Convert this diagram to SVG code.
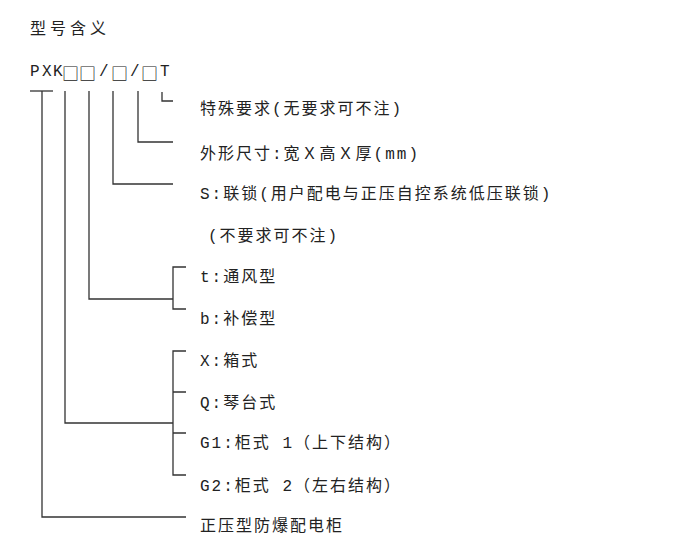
<svg xmlns="http://www.w3.org/2000/svg" width="700" height="560" viewBox="0 0 700 560">
<style>
text{font-family:"Liberation Mono","Noto Sans CJK SC",monospace;font-size:16px;fill:#222;dominant-baseline:central;letter-spacing:2px}
.sq{font-family:"Noto Sans CJK SC",sans-serif;font-size:17px}
.c{fill:none;stroke:#333;stroke-width:1.3}
</style>
<rect width="700" height="560" fill="#fff"/>
<g id="title"><text x="30" y="30" style="letter-spacing:4px">型号含义</text></g>
<g id="code"><text y="72" style="letter-spacing:0"><tspan x="30 42 53">PXK</tspan><tspan class="sq" x="62 79">□□</tspan><tspan x="99">/</tspan><tspan class="sq" x="111">□</tspan><tspan x="130">/</tspan><tspan class="sq" x="141">□</tspan><tspan x="160">T</tspan></text></g>
<g id="connectors" class="c">
<path d="M30 91H53"/>
<path d="M162 92V101H173"/>
<path d="M138 91V142H173"/>
<path d="M113 91V184H173"/>
<path d="M89 91V299H173"/>
<path d="M186 267H173V309H186"/>
<path d="M65 91V423H173"/>
<path d="M186 351H173V475H186M173 392H186M173 433H186"/>
<path d="M42 91V517H186"/>
</g>
<g id="n1"><text x="200" y="110">特殊要求(无要求可不注)</text></g>
<g id="n2"><text x="200" y="155">外形尺寸:宽Ｘ高Ｘ厚(mm)</text></g>
<g id="n3"><text x="200" y="195">S:联锁(用户配电与正压自控系统低压联锁)</text><text x="208" y="237">(不要求可不注)</text></g>
<g id="n4"><text x="200" y="278">t:通风型</text></g>
<g id="n5"><text x="200" y="320">b:补偿型</text></g>
<g id="n6"><text x="200" y="362">X:箱式</text></g>
<g id="n7"><text x="200" y="404">Q:琴台式</text></g>
<g id="n8"><text x="200" y="444">G1:柜式 1（上下结构）</text></g>
<g id="n9"><text x="200" y="487">G2:柜式 2（左右结构）</text></g>
<g id="n10"><text x="200" y="527">正压型防爆配电柜</text></g>
</svg>
